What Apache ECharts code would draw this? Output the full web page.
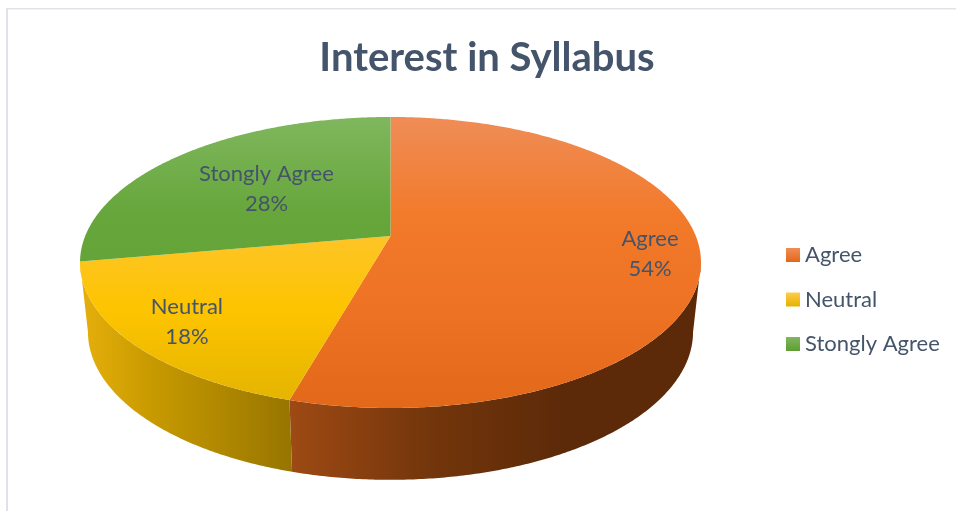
<!DOCTYPE html>
<html>
<head>
<meta charset="utf-8">
<title>Interest in Syllabus</title>
<style>
  html, body { margin: 0; padding: 0; background: #fff; }
  #chart { width: 956px; height: 511px; }
</style>
<script src="https://cdn.jsdelivr.net/npm/echarts@6/dist/echarts.min.js"></script>
</head>
<body>
<div id="chart"></div>
<script>
const categories = ['Agree', 'Neutral', 'Stongly Agree'];
const shares = [54.4, 17.8, 27.8];

// top face colours, top to bottom of the pie
const topStops = [
  ['#EF8D57', '#F27A2B', '#EE7223', '#E2681A'],
  ['#FFCB4D', '#FEC433', '#FDC400', '#E3B300'],
  ['#80B75E', '#66A63B', '#61A136', '#5E9C34']
];
// side wall colours, left to right of the pie
const sideStops = [
  ['#9E4A14', '#74360B', '#5C2A09', '#5C2A09'],
  ['#E6B00C', '#C89A00', '#B08800', '#967500'],
  ['#6E9F4A', '#5B8A38', '#4A7329', '#3A5C20']
];
// how far out each label sits, as a fraction of the radius
const labelRadius = [0.84, 0.81, 0.565];

// the disc is seen in perspective, so its centre is not the centre of the ellipse
const topDisc = { cx: 390.5, cy: 236, a: 305.3, b: 140.7 };
const baseDisc = { cx: 390.5, cy: 305, a: 297.5, b: 143 };
const tilt = 0.182;
const textColor = '#44546A';
const fontName = 'Lato, "Noto Sans", sans-serif';

const total = shares.reduce((s, v) => s + v, 0);

function project(disc, deg, r) {
  const t = deg * Math.PI / 180;
  const u = r * Math.sin(t);
  const v = r * Math.cos(t);
  const w = 1 + tilt * v;
  return [disc.cx + disc.a * u / w, disc.cy - disc.b * v / w];
}

function arcPoints(disc, from, to) {
  const pts = [];
  const n = Math.max(2, Math.ceil((to - from) * 2));
  for (let i = 0; i <= n; i++) {
    pts.push(project(disc, from + (to - from) * i / n, 1));
  }
  return pts;
}

function gradient(x, y, x2, y2, colors, global) {
  return {
    type: 'linear', x, y, x2, y2, global,
    colorStops: colors.map((color, i) => ({ offset: i / (colors.length - 1), color }))
  };
}

function wallRange(points) {
  const xs = points.map(p => p[0]);
  return [Math.min.apply(null, xs), Math.max.apply(null, xs)];
}

function makeSeries(name, idx) {
  const before = shares.slice(0, idx).reduce((s, v) => s + v, 0);
  return {
    name: name,
    type: 'custom',
    coordinateSystem: 'none',
    silent: true,
    itemStyle: { color: gradient(0, 0, 0, 1, [topStops[idx][0], topStops[idx][3]], false) },
    data: [[shares[idx]]],
    renderItem: function (params, api) {
      const from = before / total * 360;
      const to = from + api.value(0) / total * 360;
      const children = [];

      // side wall, only the part facing the viewer
      const edge = Math.acos(-tilt) * 180 / Math.PI;
      const sideFrom = Math.max(from, edge);
      const sideTo = Math.min(to, 360 - edge);
      if (sideTo > sideFrom) {
        const wall = arcPoints(topDisc, sideFrom, sideTo)
          .concat(arcPoints(baseDisc, sideFrom, sideTo).reverse());
        const range = wallRange(wall);
        children.push({
          type: 'polygon',
          shape: { points: wall },
          style: { fill: gradient(range[0], 0, range[1], 0, sideStops[idx], true) }
        });
      }

      // top face
      const face = [project(topDisc, 0, 0)].concat(arcPoints(topDisc, from, to));
      children.push({
        type: 'polygon',
        shape: { points: face },
        style: { fill: gradient(0, 117, 0, 408, topStops[idx], true) }
      });

      const mid = project(topDisc, (from + to) / 2, labelRadius[idx]);
      children.push({
        type: 'text',
        z2: 10,
        style: {
          text: name + '\n' + Math.round(api.value(0)) + '%',
          x: mid[0],
          y: mid[1] + 1,
          align: 'center',
          verticalAlign: 'middle',
          fill: textColor,
          font: '22px ' + fontName,
          lineHeight: 30
        }
      });
      return { type: 'group', children: children };
    }
  };
}

const chart = echarts.init(document.getElementById('chart'));
chart.setOption({
  backgroundColor: '#ffffff',
  animation: false,
  title: {
    text: 'Interest in Syllabus',
    left: 482,
    top: 33,
    textAlign: 'center',
    textStyle: { color: textColor, fontFamily: fontName, fontWeight: 'bold', fontSize: 40 }
  },
  legend: {
    orient: 'vertical',
    left: 781,
    top: 239,
    itemWidth: 14,
    itemHeight: 14,
    itemGap: 22.5,
    icon: 'rect',
    data: categories,
    selectedMode: false,
    textStyle: { color: textColor, fontFamily: fontName, fontSize: 22 }
  },
  // frame of the original picture, top and left only
  graphic: [
    { type: 'rect', shape: { x: 6, y: 8, width: 950, height: 1.5 }, style: { fill: '#DFE3E8' }, silent: true },
    { type: 'rect', shape: { x: 6, y: 8, width: 2, height: 503 }, style: { fill: '#DFE3E8' }, silent: true }
  ],
  series: categories.map(makeSeries)
});
</script>
</body>
</html>
